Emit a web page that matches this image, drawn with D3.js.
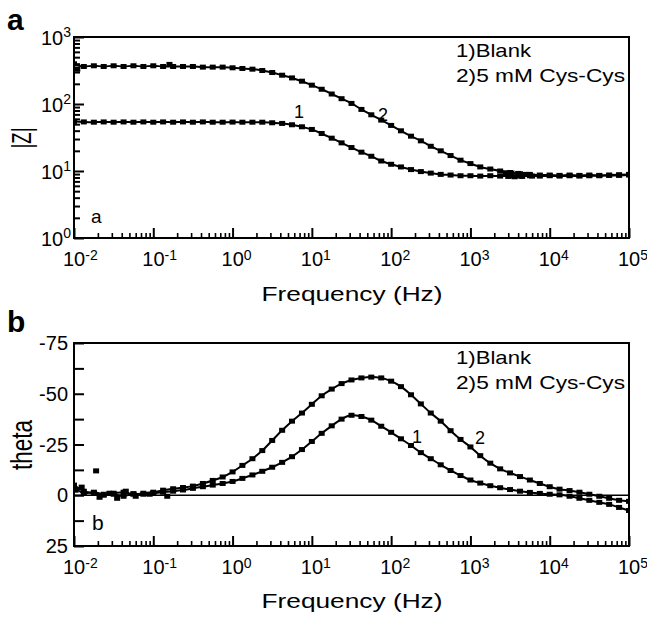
<!DOCTYPE html>
<html><head><meta charset="utf-8">
<script src="https://cdn.jsdelivr.net/npm/d3@7"></script>
<style>
body{margin:0;background:#fff}
svg text{font-family:"Liberation Sans",Arial,sans-serif;fill:#000}
</style>
</head><body>
<svg id="chart" width="647" height="617"></svg>
<script>
// ---------- DATA ----------
const freq = [0.01,0.0133,0.0178,0.0237,0.0316,0.0422,0.0562,0.075,
  0.1,0.133,0.178,0.237,0.316,0.422,0.562,0.75,
  1,1.33,1.78,2.37,3.16,4.22,5.62,7.5,
  10,13.3,17.8,23.7,31.6,42.2,56.2,75,
  100,133,178,237,316,422,562,750,
  1000,1330,1780,2370,3160,4220,5620,7500,
  10000,13300,17800,23700,31600,42200,56200,75000,100000];

// |Z| (ohm), 1) Blank
const zBlank = [55,54,53.5,54,53.5,54,53.5,54,
  53.5,54,53.5,54,53.5,54,53.5,53.5,
  53.7,53.5,53.5,53.5,52.5,51.3,49,45.7,
  41.7,36.3,30.9,26.3,22.4,19.1,16.6,14.1,
  12.6,11.5,10.5,9.8,9.3,8.9,8.7,8.5,
  8.5,8.4,8.5,8.4,8.5,8.4,8.5,8.4,
  8.5,8.4,8.5,8.4,8.5,8.5,8.6,8.6,8.7];
// |Z| (ohm), 2) 5 mM Cys-Cys
const zCys = [398,363,372,363,372,363,372,363,
  372,363,363,363,363,355,355,355,
  347,339,331,316,295,269,245,219,
  191,166,141,120,102,83,69,57.5,
  47.9,39.8,33.1,28.2,23.4,20,17,14.5,
  12.9,11.5,10.7,10,9.5,9.1,8.9,8.7,
  8.7,8.6,8.7,8.6,8.7,8.6,8.7,8.8,8.9];

// theta (deg), 1) Blank
const thBlank = [-5,-2,-1,0,-0.5,0.5,-0.8,-0.5,
  -1,-1.5,-2,-2.6,-3.4,-4.2,-5,-5.8,
  -6.8,-8.3,-10,-11.8,-13.8,-16.2,-19,-22.5,
  -26.5,-30.5,-34.2,-37.5,-39.4,-38.8,-37,-34,
  -31,-27.8,-24.5,-21,-18,-15,-12.2,-9.7,
  -7.5,-6,-4.7,-3.7,-2.8,-2,-1.4,-0.9,
  -0.5,-0.2,0.5,1.5,2.5,3.5,4.5,6,7.5];
// theta (deg), 2) 5 mM Cys-Cys
const thCys = [-4.5,-1,-1.5,-0.5,-1,-1.5,-0.5,-1,
  -1.5,-2.5,-3.2,-3.8,-4.5,-5.8,-7.3,-9,
  -11.5,-14.7,-18,-22,-27,-32,-36.5,-40.5,
  -44.8,-49,-52.3,-55,-56.8,-57.8,-58.2,-57.8,
  -56.2,-53.5,-49.5,-45,-40.5,-36.5,-31.8,-27.5,
  -23.8,-19.5,-15.8,-13,-11,-9.2,-7.5,-5.8,
  -4.2,-3,-2.3,-1.5,-0.5,0.5,1.5,2.5,3];
// scattered extra measured points
const thExtraF = [0.019,0.0105,0.0125,0.021,0.028,0.035,0.045,0.06,0.09,0.15];
const thExtraV = [-12,-2.5,-4,1,-1,1.5,-2,0.5,-0.5,0.5];
const zExtraF = [2800,3000,3300,3600,4000,4500,5000,6000,0.011,0.16];
const zExtraV = [9.4,8.3,9.3,8.2,9.2,8.3,8.9,8.4,330,390];

const xMajor = [0.01,0.1,1,10,100,1000,10000,100000];
const xExp = ["-2","-1","0","1","2","3","4","5"];
const zMajor = [1,10,100,1000];
const zExp = ["0","1","2","3"];
const thTicks = [-75,-62.5,-50,-37.5,-25,-12.5,0,12.5,25];
const thLabels = [-75,-50,-25,0,25];
const legend = ["1)Blank","2)5 mM Cys-Cys"];

// ---------- LAYOUT ----------
const svg = d3.select("#chart");
const L = 74, R = 629;
const P1 = {top:37, bottom:238};
const P2 = {top:343, bottom:546};

const x = d3.scaleLog().domain([0.01,1e5]).range([L,R]);
const yZ = d3.scaleLog().domain([1,1000]).range([P1.bottom,P1.top]);
const yT = d3.scaleLinear().domain([-75,25]).range([P2.top,P2.bottom]);

const minorOf = majors => {
  const out=[]; majors.slice(0,-1).forEach(m=>{for(let k=2;k<=9;k++) out.push(m*k);}); return out;
};

function xAxis(yPos){
  const g = svg.append("g").attr("transform",`translate(0,${yPos})`);
  g.append("g").call(d3.axisBottom(x).tickValues(minorOf(xMajor)).tickSize(-5).tickFormat(""))
    .call(a=>a.select(".domain").remove()).selectAll("line").attr("stroke","#000").attr("stroke-width",1.6);
  g.append("g").call(d3.axisBottom(x).tickValues(xMajor).tickSize(-10).tickFormat(""))
    .call(a=>a.select(".domain").remove()).selectAll("line").attr("stroke","#000").attr("stroke-width",2);
  xMajor.forEach((v,i)=>{
    const t = g.append("text").attr("x",x(v)-11).attr("y",28).attr("font-size",20);
    t.append("tspan").text("10");
    t.append("tspan").attr("dy",-6).attr("font-size",14).text(xExp[i]);
  });
}

function frame(p){
  svg.append("rect").attr("x",L).attr("y",p.top).attr("width",R-L).attr("height",p.bottom-p.top)
    .attr("fill","none").attr("stroke","#000").attr("stroke-width",2);
}

function series(yScale, xs, ys, clipId){
  const g = svg.append("g").attr("clip-path",`url(#${clipId})`);
  const pts = xs.map((f,i)=>[f,ys[i]]);
  g.append("path").datum(pts).attr("fill","none").attr("stroke","#000").attr("stroke-width",2)
    .attr("d",d3.line().x(d=>x(d[0])).y(d=>yScale(d[1])).curve(d3.curveMonotoneX));
  g.selectAll(null).data(pts).join("rect")
    .attr("x",d=>x(d[0])-3).attr("y",d=>yScale(d[1])-2.5).attr("width",6).attr("height",5).attr("fill","#000");
}
function points(yScale, xs, ys, clipId){
  const g = svg.append("g").attr("clip-path",`url(#${clipId})`);
  g.selectAll(null).data(xs.map((f,i)=>[f,ys[i]])).join("rect")
    .attr("x",d=>x(d[0])-3).attr("y",d=>yScale(d[1])-2.5).attr("width",6).attr("height",5).attr("fill","#000");
}

const defs = svg.append("defs");
[["c1",P1],["c2",P2]].forEach(([id,p])=>{
  defs.append("clipPath").attr("id",id).append("rect").attr("x",L).attr("y",p.top).attr("width",R-L).attr("height",p.bottom-p.top);
});

// ---------- PANEL a ----------
series(yZ, freq, zBlank, "c1");
series(yZ, freq, zCys, "c1");
points(yZ, zExtraF, zExtraV, "c1");
frame(P1);
xAxis(P1.bottom);
{
  const g = svg.append("g").attr("transform",`translate(${L},0)`);
  g.append("g").call(d3.axisLeft(yZ).tickValues(minorOf(zMajor)).tickSize(-6).tickFormat(""))
    .call(a=>a.select(".domain").remove()).selectAll("line").attr("stroke","#000").attr("stroke-width",2);
  g.append("g").call(d3.axisLeft(yZ).tickValues(zMajor).tickSize(-10).tickFormat(""))
    .call(a=>a.select(".domain").remove()).selectAll("line").attr("stroke","#000").attr("stroke-width",2);
  zMajor.forEach((v,i)=>{
    const t = svg.append("text").attr("x",71).attr("y",yZ(v)+8).attr("font-size",20).attr("text-anchor","end");
    t.append("tspan").text("10");
    t.append("tspan").attr("dy",-8).attr("font-size",14).text(zExp[i]);
  });
}
svg.append("text").attr("x",456).attr("y",57).attr("font-size",19).attr("textLength",75).attr("lengthAdjust","spacingAndGlyphs").text(legend[0]);
svg.append("text").attr("x",456).attr("y",82).attr("font-size",19).attr("textLength",169).attr("lengthAdjust","spacingAndGlyphs").text(legend[1]);
svg.append("text").attr("x",294).attr("y",118).attr("font-size",18).text("1");
svg.append("text").attr("x",378).attr("y",121).attr("font-size",18).text("2");
svg.append("text").attr("x",91).attr("y",223).attr("font-size",19).text("a");
svg.append("text").attr("x",352).attr("y",301).attr("font-size",20).attr("text-anchor","middle").attr("textLength",181).attr("lengthAdjust","spacingAndGlyphs").text("Frequency (Hz)");
svg.append("text").attr("transform","translate(31,138) rotate(-90)").attr("font-size",27).attr("text-anchor","middle").attr("textLength",21).attr("lengthAdjust","spacingAndGlyphs").text("|Z|");
svg.append("text").attr("x",7).attr("y",30).attr("font-size",30).attr("font-weight","bold").text("a");

// ---------- PANEL b ----------
svg.append("line").attr("x1",L).attr("x2",R).attr("y1",yT(0)).attr("y2",yT(0)).attr("stroke","#000").attr("stroke-width",1.5);
series(yT, freq, thBlank, "c2");
series(yT, freq, thCys, "c2");
points(yT, thExtraF, thExtraV, "c2");
frame(P2);
xAxis(P2.bottom);
{
  const g = svg.append("g").attr("transform",`translate(${L},0)`);
  g.append("g").call(d3.axisLeft(yT).tickValues(thTicks).tickSize(-10).tickFormat(""))
    .call(a=>a.select(".domain").remove()).selectAll("line").attr("stroke","#000").attr("stroke-width",2);
  thLabels.forEach(v=>{
    svg.append("text").attr("x",68).attr("y",yT(v)+7).attr("font-size",20).attr("text-anchor","end").text(v);
  });
}
svg.append("text").attr("x",456).attr("y",364).attr("font-size",19).attr("textLength",75).attr("lengthAdjust","spacingAndGlyphs").text(legend[0]);
svg.append("text").attr("x",456).attr("y",389).attr("font-size",19).attr("textLength",169).attr("lengthAdjust","spacingAndGlyphs").text(legend[1]);
svg.append("text").attr("x",412).attr("y",443).attr("font-size",18).text("1");
svg.append("text").attr("x",475).attr("y",444).attr("font-size",18).text("2");
svg.append("text").attr("x",92).attr("y",530).attr("font-size",21).text("b");
svg.append("text").attr("x",352).attr("y",608).attr("font-size",20).attr("text-anchor","middle").attr("textLength",181).attr("lengthAdjust","spacingAndGlyphs").text("Frequency (Hz)");
svg.append("text").attr("transform","translate(32,445) rotate(-90)").attr("font-size",29).attr("text-anchor","middle").attr("textLength",50).attr("lengthAdjust","spacingAndGlyphs").text("theta");
svg.append("text").attr("x",7).attr("y",332).attr("font-size",30).attr("font-weight","bold").text("b");
</script>
</body></html>
